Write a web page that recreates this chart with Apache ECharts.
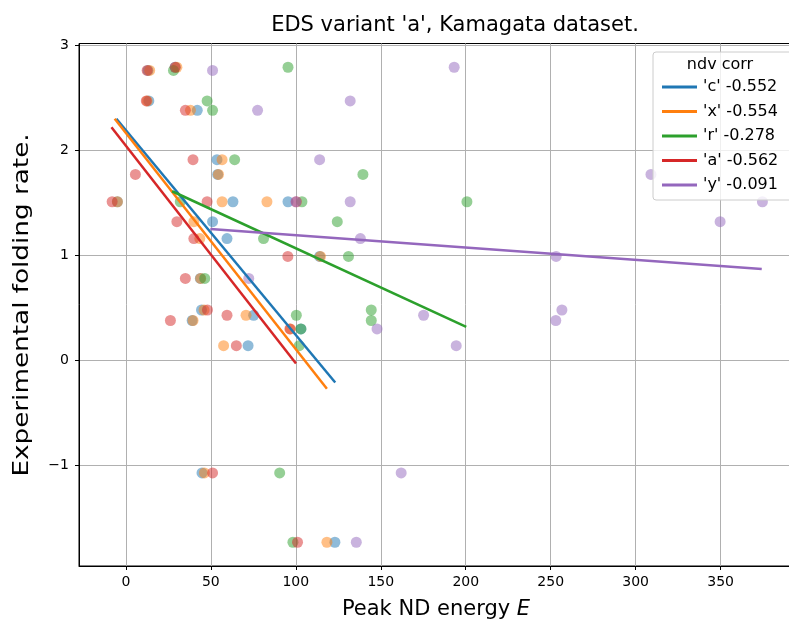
<!DOCTYPE html>
<html>
<head>
<meta charset="utf-8">
<script src="https://cdn.jsdelivr.net/npm/echarts@6/dist/echarts.min.js"></script>
<style>
html,body{margin:0;padding:0;overflow:hidden;background:#fff;}
#chart{width:800px;height:625px;}
</style>
</head>
<body>
<div id="chart"></div>
<script>
// ---- data ----
const seriesNames = ["'c' -0.552", "'x' -0.554", "'r' -0.278", "'a' -0.562", "'y' -0.091"];
const colors = ['#1f77b4', '#ff7f0e', '#2ca02c', '#d62728', '#9467bd'];

const pointsC = [[29,2.79],[13,2.76],[13.5,2.47],[42,2.38],[53.6,1.91],[54,1.77],[-5,1.51],[63,1.51],[95.4,1.51],[51,1.32],[59.5,1.16],[114,0.99],[43.8,0.78],[44.5,0.48],[75.2,0.43],[39,0.38],[103,0.30],[71.9,0.14],[44.8,-1.07],[123,-1.73]];
const pointsX = [[30,2.79],[14,2.76],[12.5,2.47],[38,2.38],[56.6,1.91],[54.5,1.77],[-5,1.51],[56.6,1.51],[83,1.51],[40,1.32],[43.5,1.16],[114.5,0.99],[44,0.78],[46,0.48],[70.7,0.43],[39.5,0.38],[96.8,0.30],[57.5,0.14],[46.2,-1.07],[118.3,-1.73]];
const pointsR = [[95.4,2.79],[28,2.76],[47.8,2.47],[51,2.38],[64,1.91],[139.5,1.77],[32,1.51],[103.6,1.51],[200.7,1.51],[124.4,1.32],[81,1.16],[131,0.99],[46.4,0.78],[144.4,0.48],[100.3,0.43],[144.4,0.38],[103,0.30],[102,0.14],[90.5,-1.07],[98.3,-1.73]];
const pointsA = [[29,2.79],[12.5,2.76],[12,2.47],[35,2.38],[39.5,1.91],[5.6,1.77],[-8.1,1.51],[47.8,1.51],[100.3,1.51],[30,1.32],[40,1.16],[95.3,0.99],[35,0.78],[48,0.48],[59.5,0.43],[26.2,0.38],[96.5,0.30],[65,0.14],[51,-1.07],[101,-1.73]];
const pointsY = [[193.2,2.79],[51,2.76],[132,2.47],[77.5,2.38],[114,1.91],[309,1.77],[100,1.51],[132,1.51],[374.6,1.51],[349.7,1.32],[138,1.16],[253.2,0.99],[72.3,0.78],[256.6,0.48],[175.2,0.43],[253,0.38],[147.8,0.30],[194.4,0.14],[162,-1.07],[135.6,-1.73]];

// fitted lines (endpoints)
const fitC = [[-5.6,2.30],[123.2,-0.21]];
const fitX = [[-6.6,2.30],[118.3,-0.27]];
const fitR = [[27.2,1.61],[200.3,0.32]];
const fitA = [[-8.5,2.22],[100.1,-0.03]];
const fitY = [[49.7,1.25],[374.2,0.87]];

const xTicks = [0,50,100,150,200,250,300,350];
const yTicks = [-1,0,1,2,3];

const allPoints = [pointsC, pointsX, pointsR, pointsA, pointsY];
const allFits = [fitC, fitX, fitR, fitA, fitY];

const font = 'DejaVu Sans';
const series = [];
allPoints.forEach((pts, i) => {
  series.push({
    name: 'pts' + i, type: 'scatter', data: pts, symbolSize: 11,
    itemStyle: {color: colors[i], opacity: 0.5}, z: 2, silent: true
  });
});
allFits.forEach((f, i) => {
  series.push({
    name: seriesNames[i], type: 'line', data: f, showSymbol: false, symbol: 'none',
    lineStyle: {color: colors[i], width: 2.5}, itemStyle: {color: colors[i]}, z: 3, silent: true
  });
});

const chart = echarts.init(document.getElementById('chart'), null, {renderer: 'canvas'});
chart.setOption({
  animation: false,
  backgroundColor: '#fff',
  title: [{
    text: "EDS variant 'a', Kamagata dataset.",
    left: 450, top: 10, textAlign: 'center',
    textStyle: {fontFamily: font, fontSize: 21, fontWeight: 'normal', color: '#000'}
  }],
  grid: {left: 79, top: 43.5, right: 7, bottom: 59, show: true, borderColor: '#000', borderWidth: 1, backgroundColor: '#fff'},
  xAxis: {
    type: 'value', min: -27.6, max: 392.6,
    name: 'Peak ND energy {i|E}', nameLocation: 'middle', nameGap: 33,
    nameTextStyle: {fontFamily: font, fontSize: 21, color: '#000', rich: {i: {fontStyle: 'italic', fontFamily: font, fontSize: 21}}},
    axisLine: {show: true, onZero: false, lineStyle: {color: '#000'}},
    axisTick: {show: true, length: 4, lineStyle: {color: '#000'}, customValues: xTicks},
    axisLabel: {fontFamily: font, fontSize: 14, color: '#000', margin: 9, customValues: xTicks},
    splitLine: {show: true, lineStyle: {color: '#b0b0b0', width: 1}}
  },
  yAxis: {
    type: 'value', min: -1.956, max: 3.016,
    axisLine: {show: true, onZero: false, lineStyle: {color: '#000'}},
    axisTick: {show: true, length: 4, lineStyle: {color: '#000'}, customValues: yTicks},
    axisLabel: {fontFamily: font, fontSize: 14, color: '#000', margin: 10, customValues: yTicks,
      formatter: v => (v < 0 ? '\u2212' + Math.abs(v) : String(v))},
    splitLine: {show: true, lineStyle: {color: '#b0b0b0', width: 1}}
  },
  legend: {
    data: seriesNames.map(n => ({name: n, icon: 'rect'})),
    orient: 'vertical', left: 657, top: 74, z: 100,
    itemWidth: 35, itemHeight: 3, itemGap: 8.5,
    textStyle: {fontFamily: font, fontSize: 16, color: '#000', padding: [0,0,0,1]},
    selectedMode: false
  },
  graphic: [
    {type: 'rect', x: 653, y: 52, shape: {width: 160, height: 148, r: 3}, z: 90,
      style: {fill: 'rgba(255,255,255,0.8)', stroke: '#cccccc', lineWidth: 1}},
    {type: 'text', x: 720, y: 65, z: 91,
      style: {text: 'ndv corr', font: '16px "DejaVu Sans"', fill: '#000', textAlign: 'center', textVerticalAlign: 'middle'}},
    {type: 'text', x: 23, y: 305, rotation: Math.PI / 2, scaleX: 1.25, scaleY: 1, z: 91,
      style: {text: 'Experimental folding rate.', font: '21px "DejaVu Sans"', fill: '#000', textAlign: 'center', textVerticalAlign: 'middle'}}
  ],
  series: series
});
</script>
</body>
</html>
